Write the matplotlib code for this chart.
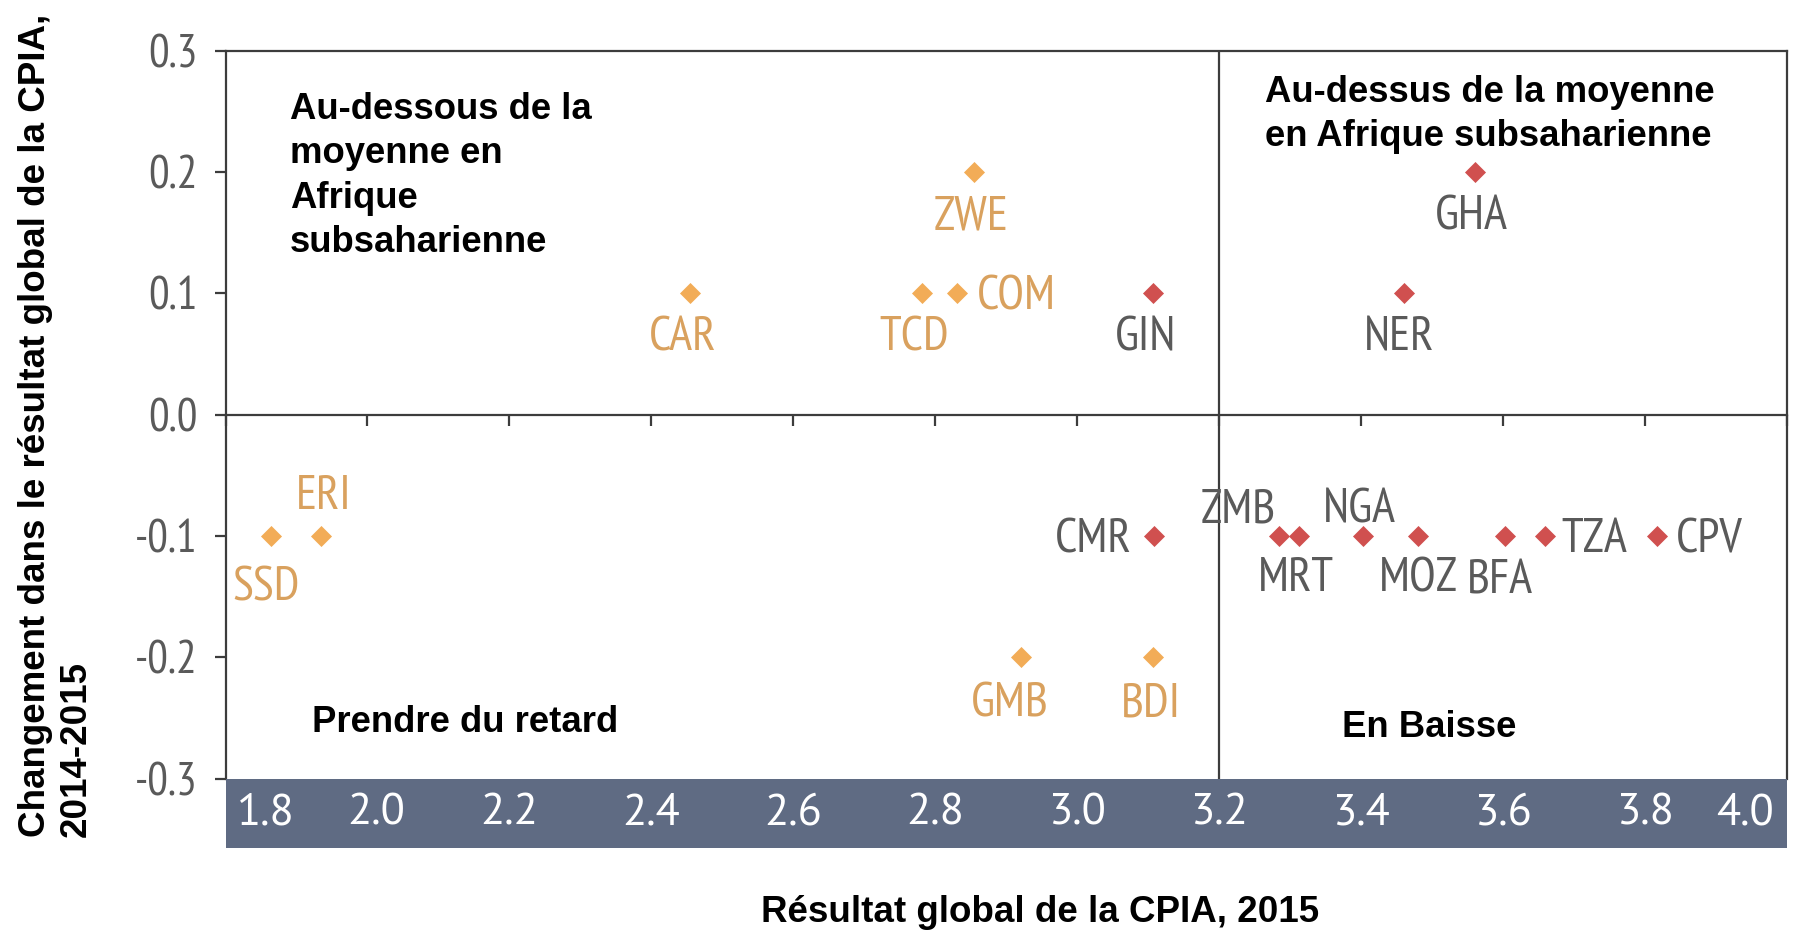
"""
CPIA 2015 scatter: level vs change 2014-2015, Sub-Saharan Africa quadrants.
"""
import matplotlib
matplotlib.use("Agg")
import matplotlib.pyplot as plt
import matplotlib.transforms as mtransforms
from matplotlib import font_manager

# --- data ---
ORANGE_CODES = ["SSD", "ERI", "CAR", "TCD", "COM", "ZWE", "GMB", "BDI"]
ORANGE_X = [1.864, 1.935, 2.454, 2.781, 2.831, 2.855, 2.921, 3.107]
ORANGE_Y = [-0.1, -0.1, 0.1, 0.1, 0.1, 0.2, -0.2, -0.2]

RED_CODES = ["GIN", "CMR", "NER", "GHA", "ZMB", "MRT", "NGA", "MOZ", "BFA", "TZA", "CPV"]
RED_X = [3.107, 3.108, 3.461, 3.560, 3.284, 3.312, 3.402, 3.480, 3.603, 3.659, 3.817]
RED_Y = [0.1, -0.1, 0.1, 0.2, -0.1, -0.1, -0.1, -0.1, -0.1, -0.1, -0.1]

XTICKS = [1.8, 2.0, 2.2, 2.4, 2.6, 2.8, 3.0, 3.2, 3.4, 3.6, 3.8, 4.0]
YTICKS = [-0.3, -0.2, -0.1, 0.0, 0.1, 0.2, 0.3]
X_MID = 3.2  # Sub-Saharan Africa average

# label placement: (dx px, dy px down to baseline, ha)
LABEL_POS = {
    "SSD": (-5, 64, "center"), "ERI": (2, -27, "center"), "CAR": (-7, 57, "center"),
    "TCD": (-8, 57, "center"), "COM": (20, 16, "left"), "ZWE": (-3, 57, "center"),
    "GMB": (-11, 59, "center"), "BDI": (-2, 59, "center"), "GIN": (-8, 57, "center"),
    "CMR": (-22, 16, "right"), "NER": (-5, 57, "center"), "GHA": (-3, 57, "center"),
    "ZMB": (-41, -14, "center"), "MRT": (-3, 55, "center"), "NGA": (-3, -14, "center"),
    "MOZ": (0, 55, "center"), "BFA": (-5, 57, "center"), "TZA": (16, 16, "left"),
    "CPV": (19, 16, "left"),
}
# band tick label nudges (px)
XLABEL_NUDGE = {1.8: 40, 2.0: 9, 4.0: -42}

ORANGE = "#F2AC57"
ORANGE_TXT = "#D9A15E"
RED = "#D0504F"
GRAY_TXT = "#5A5A5A"
BAND = "#5F6B83"
LINE = "#3C3C3C"

names = {f.name for f in font_manager.fontManager.ttflist}


def pick(cands):
    got = [c for c in cands if c in names]
    return got[:1] + ["DejaVu Sans"]


NARROW = pick(["PT Sans Narrow", "Fira Sans Condensed", "Roboto Condensed",
               "Archivo Narrow", "Barlow Condensed"])
REGULAR = pick(["PT Sans", "Source Sans 3", "Liberation Sans"])
BOLD = pick(["Liberation Sans", "Arimo"])

Y_BOTTOM = -0.357

fig = plt.figure(figsize=(17.94, 9.32), dpi=100)
ax = fig.add_axes([0.1257, 0.0901, 0.8704, 0.8555])
ax.set_xlim(1.8, 4.0)
ax.set_ylim(Y_BOTTOM, 0.3)

# axis frame
for side in ("left", "right", "top", "bottom"):
    ax.spines[side].set_color(LINE)
    ax.spines[side].set_linewidth(1.6)
ax.spines["left"].set_bounds(-0.3, 0.3)
ax.spines["right"].set_bounds(-0.3, 0.3)
ax.spines["bottom"].set_position(("data", 0))

ax.set_xticks(XTICKS)
ax.tick_params(axis="x", direction="out", length=8, width=1.6, color=LINE,
               labelbottom=False)
ax.set_yticks(YTICKS)
ax.set_yticklabels([f"{v:.1f}" if v >= 0 else f"-{abs(v):.1f}" for v in YTICKS])
ax.tick_params(axis="y", direction="out", length=8, width=1.6, color=LINE, pad=12,
               labelsize=33, labelcolor=GRAY_TXT)
for lab in ax.get_yticklabels():
    lab.set_family(NARROW)

ax.vlines(X_MID, -0.3, 0.3, color=LINE, lw=1.6, zorder=2)

# bottom band with tick labels
ax.axhspan(Y_BOTTOM, -0.3, color=BAND, lw=0, zorder=3)
band_y = (Y_BOTTOM - 0.3) / 2
for v in XTICKS:
    tr = mtransforms.offset_copy(ax.transData, fig=fig, x=XLABEL_NUDGE.get(v, 0),
                                 y=0, units="dots")
    ax.text(v, band_y, f"{v:.1f}", transform=tr, ha="center", va="center",
            color="white", fontsize=32, family=REGULAR, zorder=4)

# points
ax.scatter(ORANGE_X, ORANGE_Y, marker="D", s=115, color=ORANGE, lw=0, zorder=5)
ax.scatter(RED_X, RED_Y, marker="D", s=115, color=RED, lw=0, zorder=5)

for codes, xs, ys, col in ((ORANGE_CODES, ORANGE_X, ORANGE_Y, ORANGE_TXT),
                           (RED_CODES, RED_X, RED_Y, GRAY_TXT)):
    for c, x, y in zip(codes, xs, ys):
        dx, dy, ha = LABEL_POS[c]
        ax.annotate(c, (x, y), xytext=(dx, -dy), textcoords="offset pixels",
                    ha=ha, va="baseline", color=col, fontsize=35, family=NARROW,
                    zorder=6)

# quadrant labels
qkw = dict(fontsize=26.3, fontweight="bold", family=BOLD, color="black", zorder=6)
ax.text(1.891, 0.266, "Au-dessous de la\nmoyenne en\nAfrique\nsubsaharienne",
        ha="left", va="top", linespacing=1.35, **qkw)
ax.text(3.264, 0.280, "Au-dessus de la moyenne\nen Afrique subsaharienne",
        ha="left", va="top", linespacing=1.35, **qkw)
ax.text(1.9225, -0.2616, "Prendre du retard", ha="left", va="baseline", **qkw)
ax.text(3.3725, -0.2657, "En Baisse", ha="left", va="baseline", **qkw)

# axis titles
fig.text(1040 / 1794, 1 - 912 / 932, "Résultat global de la CPIA, 2015",
         ha="center", va="center", fontsize=26.5, fontweight="bold", family=BOLD)
fig.text(56 / 1794, 1 - 837 / 932,
         "Changement dans le résultat global de la CPIA,\n2014-2015",
         rotation=90, ha="center", va="bottom", multialignment="left",
         linespacing=1.21, fontsize=26.5, fontweight="bold", family=BOLD)

fig.savefig("out.png", dpi=100)
print("Saved out.png")
